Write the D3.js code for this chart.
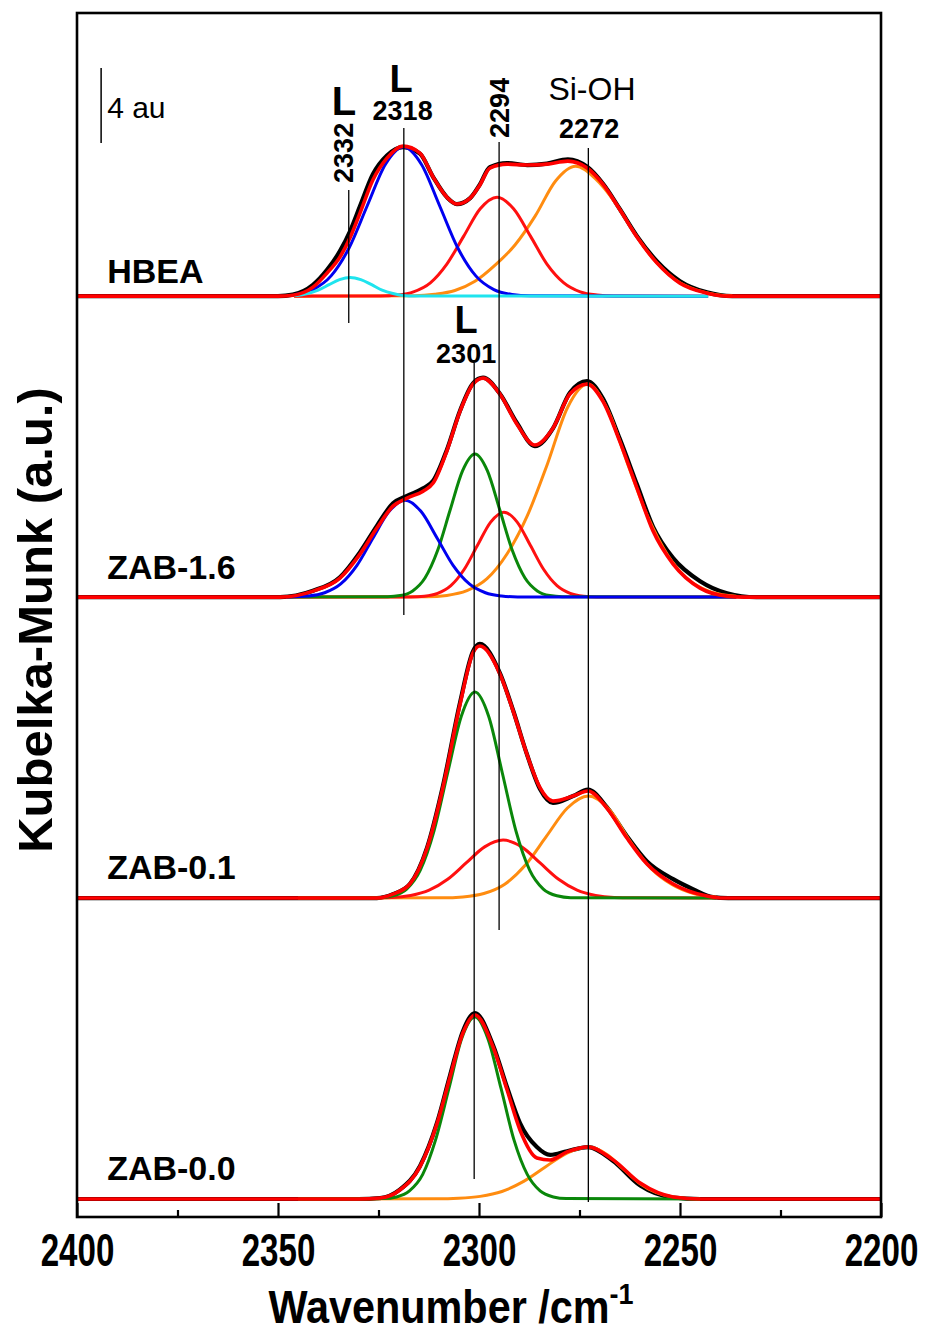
<!DOCTYPE html>
<html>
<head>
<meta charset="utf-8">
<script src="https://cdn.jsdelivr.net/npm/d3@7"></script>
<style>
  body { margin: 0; background: #fff; }
  svg { display: block; }
  text { font-family: "Liberation Sans", Arial, sans-serif; fill: #000; }
</style>
</head>
<body>
<svg id="chart" width="928" height="1332"></svg>
<script>
// ---- data: [wavenumber (cm-1), Kubelka-Munk (au)] ----
const samples = ['HBEA', 'ZAB-1.6', 'ZAB-0.1', 'ZAB-0.0'];

// HBEA
const hbeaExp = [[2400,0],[2350,0],[2346.3,0.08],[2341.3,0.6],[2337.8,1.4],[2334.6,2.4],[2332,3.5],[2329.6,4.8],[2326.4,6.5],[2322.9,7.5],[2318.9,7.95],[2314.7,7.6],[2311.4,6.35],[2308,5.28],[2305.5,4.91],[2302.2,5.23],[2299.8,5.95],[2297.3,6.88],[2293,7.1],[2288,6.99],[2283.1,7.07],[2277.9,7.3],[2273.1,6.9],[2269,5.95],[2264.9,4.62],[2260.7,3.2],[2255.7,1.85],[2250,0.8],[2243.3,0.2],[2237,0],[2200,0]];
const hbeaFit = [[2400,0],[2350,0],[2346.3,0.05],[2341.3,0.48],[2337.8,1.23],[2334.6,2.08],[2332,3.15],[2329.6,4.43],[2326.4,6.19],[2322.9,7.36],[2318.9,8.0],[2314.7,7.63],[2311.4,6.35],[2308,5.28],[2305.5,4.91],[2302.2,5.23],[2299.8,5.92],[2297.3,6.83],[2293,7.04],[2288,6.99],[2283.1,7.04],[2277.9,7.2],[2273.1,6.83],[2269,5.92],[2264.9,4.59],[2260.7,3.15],[2255.7,1.76],[2250,0.69],[2243.3,0.16],[2238,0],[2200,0]];
const hbeaL2332 = [[2346,0.02],[2342.6,0.14],[2340,0.32],[2337.3,0.61],[2334.7,0.88],[2332,1.0],[2329.4,0.88],[2326.7,0.61],[2324.1,0.32],[2321.4,0.14],[2318.8,0.04],[2316.1,0.01],[2243,0]];
const hbeaL2318 = [[2346,0.08],[2341.3,0.35],[2336.8,1.08],[2332.3,2.58],[2327.8,4.82],[2323.3,7.02],[2318.8,7.95],[2314.3,7.02],[2309.8,4.82],[2305.3,2.58],[2300.8,1.08],[2296.3,0.35],[2291.8,0.09],[2287.3,0.02],[2243,0]];
const hbeaB2294 = [[2346,0],[2324.5,0.01],[2320.4,0.06],[2316.3,0.23],[2312.1,0.71],[2308,1.71],[2303.8,3.2],[2299.7,4.66],[2295.5,5.28],[2291.4,4.66],[2287.2,3.2],[2283.1,1.71],[2278.9,0.71],[2274.8,0.23],[2270.6,0.06],[2266.5,0.01],[2243,0]];
const hbeaSiOH = [[2346,0],[2316,0.02],[2311,0.1],[2306,0.3],[2301,0.79],[2296,1.65],[2291,2.74],[2286,4.28],[2281,6.13],[2276,6.93],[2271,6.25],[2266,4.95],[2261,3.25],[2256,1.83],[2251,0.85],[2246,0.33],[2241,0.08],[2237,0.02]];

// ZAB-1.6
const zab16Exp = [[2400,0],[2349.5,0],[2341.3,0.34],[2334.6,1.06],[2329.6,2.4],[2325.4,3.8],[2321.4,5.0],[2317.9,5.4],[2313.9,5.8],[2311.4,6.2],[2308,7.85],[2304.7,9.95],[2301.5,11.4],[2299,11.7],[2294.8,10.85],[2290.6,9.3],[2286.1,8.05],[2281.6,9.0],[2277.4,10.9],[2273.1,11.52],[2269.2,10.6],[2265,8.45],[2260.7,6.0],[2256.7,3.75],[2251.7,2.08],[2245,0.85],[2238.3,0.21],[2231,0],[2200,0]];
const zab16Fit = [[2400,0],[2349.5,0],[2341.3,0.32],[2334.6,1.01],[2329.6,2.29],[2325.4,3.68],[2321.4,4.85],[2317.9,5.28],[2313.9,5.65],[2311.4,6.08],[2308,7.79],[2304.7,9.92],[2301.5,11.36],[2299,11.68],[2294.8,10.83],[2290.6,9.23],[2286.1,8.11],[2281.6,9.01],[2277.4,10.83],[2273.1,11.36],[2269.2,10.45],[2265,8.32],[2260.7,5.81],[2256.7,3.52],[2251.7,1.76],[2245,0.48],[2238.3,0.05],[2234,0],[2200,0]];
const zab16L2318 = [[2348,0.01],[2342.4,0.06],[2338.4,0.23],[2334.4,0.7],[2330.4,1.68],[2326.4,3.14],[2322.4,4.56],[2318.4,5.17],[2314.4,4.56],[2310.4,3.14],[2306.4,1.68],[2302.4,0.7],[2298.4,0.23],[2294.4,0.06],[2290.4,0.01],[2236,0]];
const zab16L2301 = [[2348,0],[2322.7,0.02],[2319.6,0.08],[2316.5,0.33],[2313.4,1.03],[2310.3,2.48],[2307.2,4.63],[2304.1,6.73],[2301,7.63],[2297.9,6.73],[2294.8,4.63],[2291.7,2.48],[2288.6,1.03],[2285.5,0.33],[2282.4,0.08],[2279.3,0.02],[2236,0]];
const zab16B2294 = [[2348,0],[2316.9,0.01],[2313.6,0.05],[2310.3,0.2],[2307,0.61],[2303.7,1.47],[2300.4,2.75],[2297.1,4.0],[2293.8,4.53],[2290.5,4.0],[2287.2,2.75],[2283.9,1.47],[2280.6,0.61],[2277.3,0.2],[2274,0.05],[2270.7,0.01],[2236,0]];
const zab16SiOH = [[2348,0],[2313,0.02],[2308,0.09],[2303,0.34],[2298,0.98],[2293,2.31],[2288,4.33],[2283,7.09],[2278,10.1],[2273,11.36],[2268,10.0],[2263,7.09],[2258,4.28],[2253,2.22],[2248,0.95],[2243,0.33],[2238,0.08],[2236,0.04]];

// ZAB-0.1
const zab01Exp = [[2400,0],[2325.4,0],[2321.4,0.21],[2317.2,0.75],[2312.9,2.7],[2309,5.95],[2304.7,10.45],[2301.5,13.15],[2299.8,13.55],[2294.8,12.0],[2291.5,10.0],[2288.1,7.68],[2284.8,5.8],[2281.6,5.07],[2276.6,5.44],[2272.9,5.78],[2268.2,4.85],[2263.2,3.3],[2258.2,1.95],[2251.7,1.01],[2246.8,0.48],[2241.8,0.05],[2238,0],[2200,0]];
const zab01Fit = [[2400,0],[2325.4,0],[2321.4,0.21],[2317.2,0.75],[2312.9,2.67],[2309,5.87],[2304.7,10.35],[2301.5,13.07],[2299.8,13.44],[2294.8,11.95],[2291.5,9.97],[2288.1,7.68],[2284.8,5.87],[2281.6,5.17],[2276.6,5.44],[2272.9,5.71],[2268.2,4.8],[2263.2,3.2],[2258.2,1.81],[2251.7,0.75],[2243.3,0.11],[2239,0],[2200,0]];
const zab01L2301 = [[2345,0],[2324.8,0.02],[2321.4,0.12],[2318,0.48],[2314.6,1.49],[2311.2,3.57],[2307.8,6.67],[2304.4,9.7],[2301,10.99],[2297.6,9.7],[2294.2,6.67],[2290.8,3.57],[2287.4,1.49],[2284,0.48],[2280.6,0.12],[2277.2,0.02],[2241,0]];
const zab01B2294 = [[2345,0],[2326.2,0.01],[2321.6,0.03],[2317,0.14],[2312.4,0.42],[2307.8,1.0],[2303.2,1.87],[2298.6,2.73],[2294,3.09],[2289.4,2.73],[2284.8,1.87],[2280.2,1.0],[2275.6,0.42],[2271,0.14],[2266.4,0.03],[2261.8,0.01],[2241,0]];
const zab01SiOH = [[2345,0],[2309.2,0.01],[2304,0.06],[2298.8,0.24],[2293.6,0.74],[2288.4,1.77],[2283.2,3.3],[2278,4.8],[2272.8,5.44],[2267.6,4.72],[2262.4,3.02],[2257.2,1.58],[2252,0.72],[2246.8,0.25],[2241.6,0.06],[2241,0.05]];

// ZAB-0.0
const zab00Exp = [[2400,0],[2330,0],[2324.6,0.05],[2319.7,0.5],[2314.7,1.75],[2310.4,4.1],[2307.2,6.6],[2304,8.95],[2301,9.92],[2296.5,8.2],[2293,5.95],[2289.8,4.05],[2285.6,2.77],[2282.3,2.35],[2278.1,2.55],[2272.9,2.77],[2266.7,2.04],[2259.9,0.72],[2251.7,0.08],[2245,0],[2200,0]];
const zab00Fit = [[2400,0],[2330,0],[2324.6,0.05],[2319.7,0.48],[2314.7,1.71],[2310.4,4.05],[2307.2,6.51],[2304,8.85],[2301,9.81],[2296.5,8.11],[2293,5.81],[2289.8,3.68],[2285.6,2.19],[2282.3,2.08],[2278.1,2.51],[2272.9,2.77],[2266.7,2.1],[2259.9,0.85],[2251.7,0.11],[2245,0],[2200,0]];
const zab00L2301 = [[2345,0],[2323.8,0.02],[2320.5,0.11],[2317.3,0.43],[2314,1.31],[2310.8,3.15],[2307.5,5.88],[2304.3,8.56],[2301,9.7],[2297.8,8.56],[2294.5,5.88],[2291.3,3.15],[2288,1.31],[2284.8,0.43],[2281.5,0.11],[2278.3,0.02],[2245,0]];
const zab00SiOH = [[2345,0],[2310.5,0.01],[2305.1,0.04],[2299.7,0.14],[2294.3,0.4],[2288.9,0.94],[2283.5,1.71],[2278.1,2.45],[2272.7,2.77],[2268,2.35],[2264,1.58],[2260,0.83],[2256,0.35],[2252,0.11],[2248,0.03],[2245,0]];

// band assignments (vertical marker lines and their labels)
const markerWavenumbers = [2332, 2318, 2301, 2294, 2272];
const markerLabels = ['2332', '2318', '2301', '2294', '2272'];

// x ticks
const majorTicks = [2400, 2350, 2300, 2250, 2200];
const minorTicks = [2375, 2325, 2275, 2225];

// ---- layout ----
const x = d3.scaleLinear().domain([2400, 2200]).range([77, 881]);
const y = d3.scaleLinear().domain([-0.96, 63.25]).range([1217, 13]);
const offsets = [48.15, 32.1, 16.05, 0];   // vertical stacking (au)
const labelLift = [0.7, 0.98, 1.0, 1.0];

const colors = {
  exp: '#000000', fit: '#ff0000',
  L2332: '#1fe4ee', L2318: '#0000f0', L2301: '#0a870a', B2294: '#ff1010', SiOH: '#ff8c10'
};
const bandOrder = ['SiOH', 'B2294', 'L2301', 'L2318', 'L2332'];

const spectra = [
  { exp: hbeaExp,  fit: hbeaFit,  bands: { SiOH: hbeaSiOH, B2294: hbeaB2294, L2318: hbeaL2318, L2332: hbeaL2332 } },
  { exp: zab16Exp, fit: zab16Fit, bands: { SiOH: zab16SiOH, B2294: zab16B2294, L2301: zab16L2301, L2318: zab16L2318 } },
  { exp: zab01Exp, fit: zab01Fit, bands: { SiOH: zab01SiOH, B2294: zab01B2294, L2301: zab01L2301 } },
  { exp: zab00Exp, fit: zab00Fit, bands: { SiOH: zab00SiOH, L2301: zab00L2301 } }
];

// marker line extents (au on the stacked scale) and where each line sits
const markerSpan = { 2332: [46.72, 53.81], 2318: [31.15, 57.12], 2301: [1.07, 44.59], 2294: [14.35, 56.37], 2272: [-0.16, 56.05] };
const markerLineX = { 2332: 2332.4, 2318: 2318.7, 2301: 2301.2, 2294: 2295, 2272: 2272.8 };

const svg = d3.select('#chart');
const g = svg.append('g');

// spectra
spectra.forEach((s, i) => {
  const off = offsets[i];
  const line = d3.line()
      .x(d => x(d[0]))
      .y(d => y(d[1] + off))
      .curve(d3.curveMonotoneX);

  g.append('path')
      .attr('d', line(s.exp))
      .attr('fill', 'none')
      .attr('stroke', colors.exp)
      .attr('stroke-width', 4.2)
      .attr('stroke-linejoin', 'round');

  bandOrder.forEach(b => {
    if (!s.bands[b]) return;
    g.append('path')
        .attr('d', line(s.bands[b]))
        .attr('fill', 'none')
        .attr('stroke', colors[b])
        .attr('stroke-width', 3)
        .attr('stroke-linejoin', 'round');
  });

  g.append('path')
      .attr('d', line(s.fit))
      .attr('fill', 'none')
      .attr('stroke', colors.fit)
      .attr('stroke-width', 3.6)
      .attr('stroke-linejoin', 'round');

  g.append('text')
      .attr('x', x(2392.5))
      .attr('y', y(off + labelLift[i]))
      .attr('font-size', 34)
      .attr('font-weight', 'bold')
      .text(samples[i]);
});

// vertical marker lines
markerWavenumbers.forEach(m => {
  g.append('line')
      .attr('x1', x(markerLineX[m])).attr('x2', x(markerLineX[m]))
      .attr('y1', y(markerSpan[m][0])).attr('y2', y(markerSpan[m][1]))
      .attr('stroke', '#000')
      .attr('stroke-width', 1.3);
});

// marker labels
const ann = g.append('g').attr('font-weight', 'bold');
ann.append('text').attr('x', x(2333.6)).attr('y', y(57.81)).attr('text-anchor', 'middle').attr('font-size', 40).text('L');
ann.append('text').attr('transform', `translate(${x(2331.3)},${y(55.79)}) rotate(-90)`).attr('text-anchor', 'middle').attr('font-size', 27).text(markerLabels[0]);
ann.append('text').attr('x', x(2319.4)).attr('y', y(59.04)).attr('text-anchor', 'middle').attr('font-size', 38).text('L');
ann.append('text').attr('x', x(2319.0)).attr('y', y(57.55)).attr('text-anchor', 'middle').attr('font-size', 27).text(markerLabels[1]);
ann.append('text').attr('x', x(2303.2)).attr('y', y(46.19)).attr('text-anchor', 'middle').attr('font-size', 38).text('L');
ann.append('text').attr('x', x(2303.2)).attr('y', y(44.59)).attr('text-anchor', 'middle').attr('font-size', 27).text(markerLabels[2]);
ann.append('text').attr('transform', `translate(${x(2292.5)},${y(58.19)}) rotate(-90)`).attr('text-anchor', 'middle').attr('font-size', 27).text(markerLabels[3]);
ann.append('text').attr('x', x(2272.6)).attr('y', y(56.59)).attr('text-anchor', 'middle').attr('font-size', 27).text(markerLabels[4]);
g.append('text').attr('x', x(2271.9)).attr('y', y(58.61)).attr('text-anchor', 'middle').attr('font-size', 32).text('Si-OH');

// 4 au scale bar
g.append('line')
    .attr('x1', x(2394)).attr('x2', x(2394))
    .attr('y1', y(56.32)).attr('y2', y(60.32))
    .attr('stroke', '#000').attr('stroke-width', 1.5);
g.append('text').attr('x', x(2392.5)).attr('y', y(57.65)).attr('font-size', 30).text('4 au');

// frame
svg.append('rect')
    .attr('x', x(2400)).attr('y', y(63.25))
    .attr('width', x(2200) - x(2400)).attr('height', y(-0.96) - y(63.25))
    .attr('fill', 'none').attr('stroke', '#000').attr('stroke-width', 2.6);

// x axis
const xAxis = svg.append('g')
    .attr('transform', `translate(0,${y(-0.96)})`)
    .call(d3.axisBottom(x).tickValues(majorTicks).tickSize(-14).tickPadding(16).tickFormat(d3.format('d')));
xAxis.select('.domain').remove();
xAxis.selectAll('line').attr('stroke-width', 2.2);
xAxis.selectAll('text')
    .attr('font-size', 46)
    .attr('font-weight', 'bold')
    .attr('font-family', '"Liberation Sans", Arial, sans-serif')
    .attr('transform', 'scale(0.72,1)');

const xMinor = svg.append('g')
    .attr('transform', `translate(0,${y(-0.96)})`)
    .call(d3.axisBottom(x).tickValues(minorTicks).tickSize(-7).tickFormat(''));
xMinor.select('.domain').remove();
xMinor.selectAll('line').attr('stroke-width', 2.2);

// axis titles
const xt = svg.append('text')
    .attr('transform', 'translate(451,1323) scale(0.9,1)')
    .attr('text-anchor', 'middle')
    .attr('font-size', 46)
    .attr('font-weight', 'bold');
xt.append('tspan').text('Wavenumber /cm');
xt.append('tspan').attr('font-size', 30).attr('dy', -19).text('-1');

svg.append('text')
    .attr('transform', 'translate(52,620) rotate(-90)')
    .attr('text-anchor', 'middle')
    .attr('font-size', 49)
    .attr('font-weight', 'bold')
    .text('Kubelka-Munk (a.u.)');
</script>
</body>
</html>
